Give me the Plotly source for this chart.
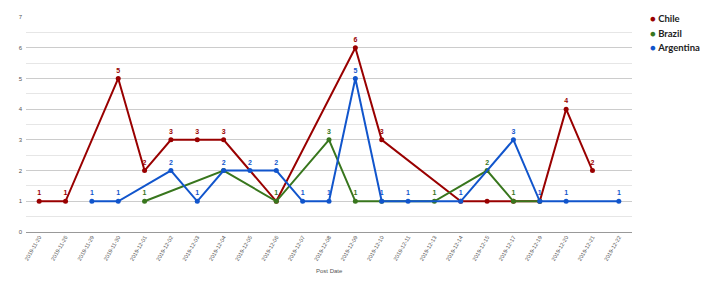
import plotly.graph_objects as go

categories = ["2019-11-20", "2019-11-26", "2019-11-29", "2019-11-30", "2019-12-01",
              "2019-12-02", "2019-12-03", "2019-12-04", "2019-12-05", "2019-12-06",
              "2019-12-07", "2019-12-08", "2019-12-09", "2019-12-10", "2019-12-11",
              "2019-12-13", "2019-12-14", "2019-12-15", "2019-12-17", "2019-12-19",
              "2019-12-20", "2019-12-21", "2019-12-22"]

chile = [1, 1, None, 5, 2, 3, 3, 3, None, 1, None, None, 6, 3, None, None,
         1, 1, 1, 1, 4, 2, None]
brazil = [None, None, None, None, 1, None, None, 2, None, 1, None, 3, 1, 1, None,
          1, None, 2, 1, 1, None, None, None]
argentina = [None, None, 1, 1, None, 2, 1, 2, 2, 2, 1, 1, 5, 1, 1, None,
             1, None, 3, 1, 1, None, 1]

# indices whose value labels are hidden in the reference (overlapping labels)
chile_hidden = [9, 16, 17, 18, 19]
brazil_hidden = [7, 13, 19]
argentina_hidden = []

series = [
    ("Chile", chile, chile_hidden, "#990000"),
    ("Brazil", brazil, brazil_hidden, "#38761d"),
    ("Argentina", argentina, argentina_hidden, "#1155cc"),
]

L, R, T, B = 26, 83, 17, 57
W, H = 715, 289
plot_w = W - L - R
plot_h = H - T - B

fig = go.Figure()
for name, vals, hidden, color in series:
    labels = ["" if (v is None or i in hidden) else str(v) for i, v in enumerate(vals)]
    fig.add_trace(go.Scatter(
        x=categories, y=vals, name=name, mode="lines+markers+text",
        connectgaps=True, text=labels, textposition="top center",
        textfont=dict(color=color, size=7, family="Liberation Sans", weight="bold"),
        line=dict(color=color, width=2), marker=dict(color=color, size=5),
        showlegend=False, cliponaxis=False, hoverinfo="skip",
    ))

# legend drawn as text entries
legend_annotations = []
for k, (name, vals, hidden, color) in enumerate(series):
    ypx = 19 + 14 * k
    legend_annotations.append(dict(
        text=f'<span style="color:{color}">●</span> <b>{name}</b>',
        x=(648 - L) / plot_w, xref="paper", xanchor="left",
        y=(H - B - ypx) / plot_h, yref="paper", yanchor="middle",
        showarrow=False, font=dict(family="Lato", size=9.5, color="#222"),
    ))

fig.update_layout(
    width=W, height=H,
    margin=dict(l=L, r=R, t=T, b=B),
    plot_bgcolor="white", paper_bgcolor="white",
    font=dict(family="Liberation Sans", color="#444"),
    showlegend=False,
    xaxis=dict(
        type="category", categoryorder="array", categoryarray=categories,
        range=[-0.5, len(categories) - 0.5], automargin=False,
        tickangle=-60, tickfont=dict(size=5.5, color="#555"),
        showgrid=False, showline=False, zeroline=False, ticks="",
    ),
    yaxis=dict(
        range=[0, 7], dtick=1, tick0=0, automargin=False,
        tickfont=dict(size=6, color="#555"),
        showgrid=True, gridcolor="#cccccc", gridwidth=1,
        zeroline=True, zerolinecolor="#999999", zerolinewidth=1,
        minor=dict(dtick=0.5, showgrid=True, gridcolor="#e6e6e6", gridwidth=1),
        ticks="", ticklabelstandoff=3,
    ),
    annotations=[dict(
        text="Post Date", x=0.5, xref="paper", y=0, yref="paper",
        yshift=-39, showarrow=False, yanchor="middle",
        font=dict(size=6, color="#555"),
    )] + legend_annotations,
)

fig.write_html("out.html", config={"displayModeBar": False},
               post_script="document.body.style.margin='0';document.body.style.overflow='hidden';")
